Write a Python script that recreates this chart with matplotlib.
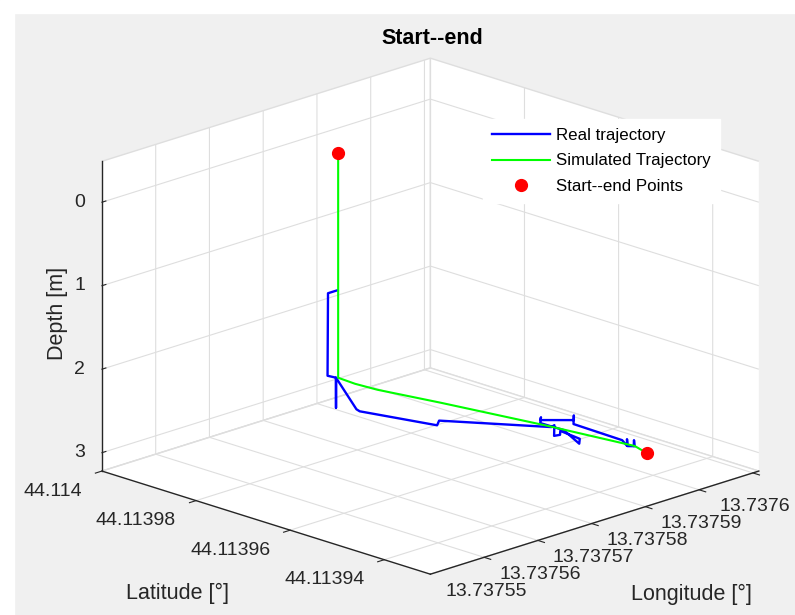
import matplotlib
matplotlib.use('Agg')
import matplotlib.pyplot as plt
from matplotlib.patches import Rectangle
from mpl_toolkits.mplot3d import proj3d

plt.rcParams['font.family'] = ['Liberation Sans', 'DejaVu Sans']
plt.rcParams['grid.color'] = '#dedede'
plt.rcParams['grid.linewidth'] = 0.8

# simulated trajectory (green)
sim_lon = [13.7375653, 13.7375653, 13.7375659, 13.7375678, 13.7375737,
           13.7375834, 13.7375908, 13.7375918]
sim_lat = [44.1139787, 44.1139787, 44.1139758, 44.1139732, 44.1139665,
           44.1139548, 44.1139448, 44.1139434]
sim_depth = [-0.45, 2.237, 2.27, 2.334, 2.49, 2.757, 2.97, 3.05]

# real trajectory (blue)
real_lon = [13.7375653, 13.7375635, 13.7375635, 13.7375642, 13.7375642, 13.7375642,
            13.7375589, 13.7375588, 13.7375669, 13.7375685, 13.7375844, 13.7375853,
            13.7375821, 13.7375832, 13.7375844, 13.7375846, 13.7375831, 13.7375852,
            13.7375846, 13.7375864, 13.7375855, 13.7375891, 13.7375905, 13.7375879,
            13.7375917, 13.7375906, 13.7375926, 13.7375906, 13.7375914, 13.7375932,
            13.7375915]
real_lat = [44.1139788, 44.1139788, 44.1139789, 44.1139779, 44.1139779, 44.1139779,
            44.1139675, 44.1139667, 44.1139595, 44.1139609, 44.1139552, 44.1139556,
            44.1139520, 44.1139520, 44.1139533, 44.1139494, 44.1139478, 44.1139535,
            44.1139578, 44.1139597, 44.1139588, 44.1139558, 44.1139574, 44.1139545,
            44.1139485, 44.1139462, 44.1139485, 44.1139461, 44.1139457, 44.1139477,
            44.1139456]
real_depth = [1.19, 1.19, 2.18, 2.2, 2.56, 2.2,
              2.287, 2.295, 2.499, 2.50, 2.798, 2.80,
              2.80, 2.81, 2.81, 2.84, 2.84, 2.82,
              2.80, 2.80, 2.80, 2.82, 2.82, 2.82,
              2.984, 2.99, 2.99, 2.99, 3.0, 3.0,
              3.0]

# start and end points
se_lon = [13.7375653, 13.7375918]
se_lat = [44.1139787, 44.1139434]
se_depth = [-0.45, 3.05]

lon_ticks = [13.73755, 13.73756, 13.73757, 13.73758, 13.73759, 13.7376]
lon_labels = ['13.73755', '13.73756', '13.73757', '13.73758', '13.73759', '13.7376']
lat_ticks = [44.11394, 44.11396, 44.11398, 44.114]
lat_labels = ['44.11394', '44.11396', '44.11398', '44.114']
depth_ticks = [0, 1, 2, 3]
depth_labels = ['0', '1', '2', '3']

lon_lim = (13.73754, 13.7376011)
lat_lim = (44.1139302, 44.114)
depth_lim = (3.22, -0.49)

fig = plt.figure(figsize=(7.95, 6.15), dpi=100, facecolor='#f0f0f0')
fig.patches.append(Rectangle((0, 1 - 13 / 615), 1, 13 / 615, transform=fig.transFigure,
                             color='white', zorder=-5))
fig.patches.append(Rectangle((0, 0), 14 / 795, 1, transform=fig.transFigure,
                             color='white', zorder=-5))

ax = fig.add_axes([0.0246, -0.1821, 1.0063, 1.3008], projection='3d', proj_type='ortho')
ax.patch.set_alpha(0)
ax.computed_zorder = False
ax.view_init(elev=18.3, azim=-135)
ax.set_box_aspect((457, 457, 321), zoom=0.89)

ax.plot(real_lon, real_lat, real_depth, color='#0000ff', lw=1.7, label='Real trajectory')
ax.plot(sim_lon, sim_lat, sim_depth, color='#00ff00', lw=1.5, label='Simulated Trajectory')
ax.plot(se_lon, se_lat, se_depth, 'o', color='#ff0000', ms=8.5, linestyle='none',
        label='Start--end Points')

ax.set_xlim(*lon_lim)
ax.set_ylim(*lat_lim)
ax.set_zlim(*depth_lim)

ax.set_xticks(lon_ticks)
ax.set_yticks(lat_ticks)
ax.set_zticks(depth_ticks)
ax.set_xticklabels([])
ax.set_yticklabels([])
ax.set_zticklabels([])
ax.tick_params(colors='#262626')

for axis in (ax.xaxis, ax.yaxis, ax.zaxis):
    axis.set_pane_color((1, 1, 1, 1))
    axis.pane.set_edgecolor('#dedede')
    axis.line.set_color('#262626')
    axis.line.set_linewidth(1.0)
# MATLAB style: ticks of the floor axes point inwards
for axis in (ax.xaxis, ax.yaxis):
    axis._axinfo['tick']['inward_factor'] = 0.25
    axis._axinfo['tick']['outward_factor'] = 0.0
ax.zaxis._axinfo['tick']['inward_factor'] = 0.0
ax.zaxis._axinfo['tick']['outward_factor'] = 0.15

fig.text(432 / 795, 1 - 38 / 615, 'Start--end', ha='center', va='center',
         fontsize=15.5, fontweight='bold', color='black')
fig.text(57 / 795, 1 - 313 / 615, 'Depth [m]', ha='center', va='center',
         rotation=90, fontsize=15.5, color='#262626')
fig.text(178 / 795, 1 - 593 / 615, 'Latitude [°]', ha='center', va='center',
         fontsize=15.5, color='#262626')
fig.text(691 / 795, 1 - 594 / 615, 'Longitude [°]', ha='center', va='center',
         fontsize=15.5, color='#262626')

leg = ax.legend(loc='upper left', bbox_to_anchor=(483 / 795, 1 - 119 / 615),
                bbox_transform=fig.transFigure, fontsize=12.2, frameon=True,
                fancybox=False, framealpha=1, facecolor='white', edgecolor='white',
                handlelength=3.4, handletextpad=0.35, labelspacing=0.6,
                borderpad=0.55, borderaxespad=0)

# tick labels placed like MATLAB, next to the projected tick positions
fig.canvas.draw()
M = ax.get_proj()
tick_kw = dict(xycoords='data', textcoords='offset points', fontsize=14,
               color='#262626', annotation_clip=False)
for t, lab in zip(lon_ticks, lon_labels):
    px, py, _ = proj3d.proj_transform(t, lat_lim[0], depth_lim[0], M)
    ax.annotate(lab, (px, py), xytext=(2 * 0.72, -34 * 0.72), ha='center', va='center', **tick_kw)
for t, lab in zip(lat_ticks, lat_labels):
    px, py, _ = proj3d.proj_transform(lon_lim[0], t, depth_lim[0], M)
    ax.annotate(lab, (px, py), xytext=(-20 * 0.72, -20 * 0.72), ha='right', va='center', **tick_kw)
for t, lab in zip(depth_ticks, depth_labels):
    px, py, _ = proj3d.proj_transform(lon_lim[0], lat_lim[1], t, M)
    ax.annotate(lab, (px, py), xytext=(-17 * 0.72, 0), ha='right', va='center', **tick_kw)

fig.savefig('out.png', dpi=100, facecolor=fig.get_facecolor())
